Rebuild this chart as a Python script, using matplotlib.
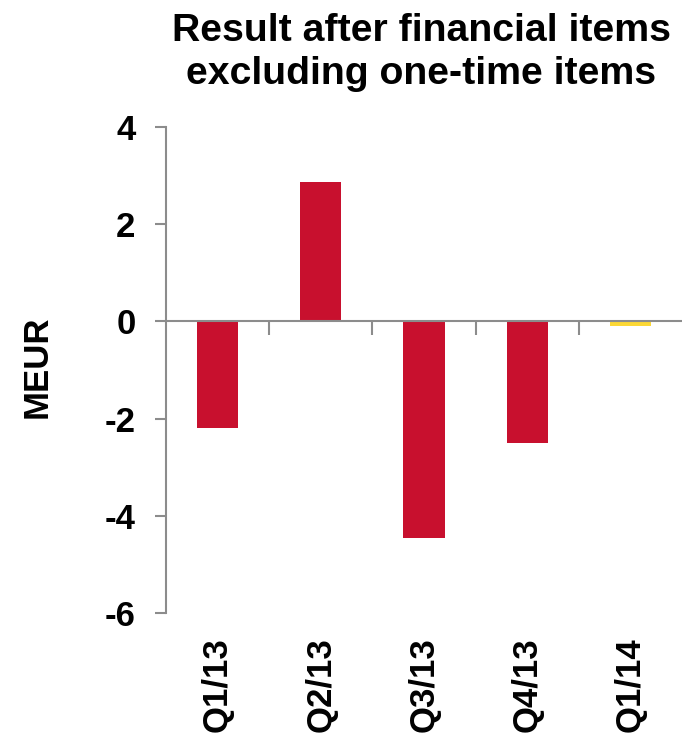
import matplotlib
matplotlib.use("Agg")
import matplotlib.pyplot as plt
from matplotlib.transforms import blended_transform_factory

categories = ["Q1/13", "Q2/13", "Q3/13", "Q4/13", "Q1/14"]
values = [-2.2, 2.87, -4.45, -2.5, -0.1]
colors = ["#c8102e", "#c8102e", "#c8102e", "#c8102e", "#fcd835"]
yticks = [-6, -4, -2, 0, 2, 4]
title_lines = ["Result after financial items", "excluding one-time items"]

plt.rcParams['font.family'] = ['Liberation Sans', 'DejaVu Sans']
plt.rcParams['font.weight'] = 'bold'

fig = plt.figure(figsize=(6.82, 7.38), dpi=100)
ax = fig.add_axes([166/682, (738-613)/738, 1 - 166/682, (613-127)/738])

x = list(range(len(categories)))
ax.bar(x, values, width=0.4, color=colors, zorder=2)

ax.set_xlim(-0.5, len(categories) - 0.5)
ax.set_ylim(-6, 4)
ax.set_yticks(yticks)
ax.set_yticklabels([str(t) for t in yticks], fontsize=25, fontweight='bold')

grey = "#8c8c8c"
for s in ['top', 'right']:
    ax.spines[s].set_visible(False)
ax.spines['left'].set_color(grey)
ax.spines['left'].set_linewidth(1.5)
ax.spines['bottom'].set_position(('data', 0))
ax.spines['bottom'].set_color(grey)
ax.spines['bottom'].set_linewidth(1.5)
ax.spines['bottom'].set_zorder(3)

ax.tick_params(axis='y', direction='out', length=8, width=1.5, color=grey, pad=14)
ax.set_xticks([i + 0.5 for i in x[:-1]])
ax.set_xticklabels([])
ax.tick_params(axis='x', direction='out', length=10, width=1.5, color=grey)

trans = blended_transform_factory(ax.transData, ax.transAxes)
for i, c in zip(x, categories):
    ax.text(i, -0.05, c, transform=trans, rotation=90, ha='center', va='top',
            fontsize=25, fontweight='bold')

fig.text(37/682, 1 - 367/738, "MEUR", rotation=90, ha='center', va='center',
         fontsize=25, fontweight='bold')

fig.text(422/682, 1 - 41/738, title_lines[0], ha='center', va='baseline',
         fontsize=28.3, fontweight='bold')
fig.text(421/682, 1 - 84/738, title_lines[1], ha='center', va='baseline',
         fontsize=28.3, fontweight='bold')

fig.savefig("out.png", dpi=100)
